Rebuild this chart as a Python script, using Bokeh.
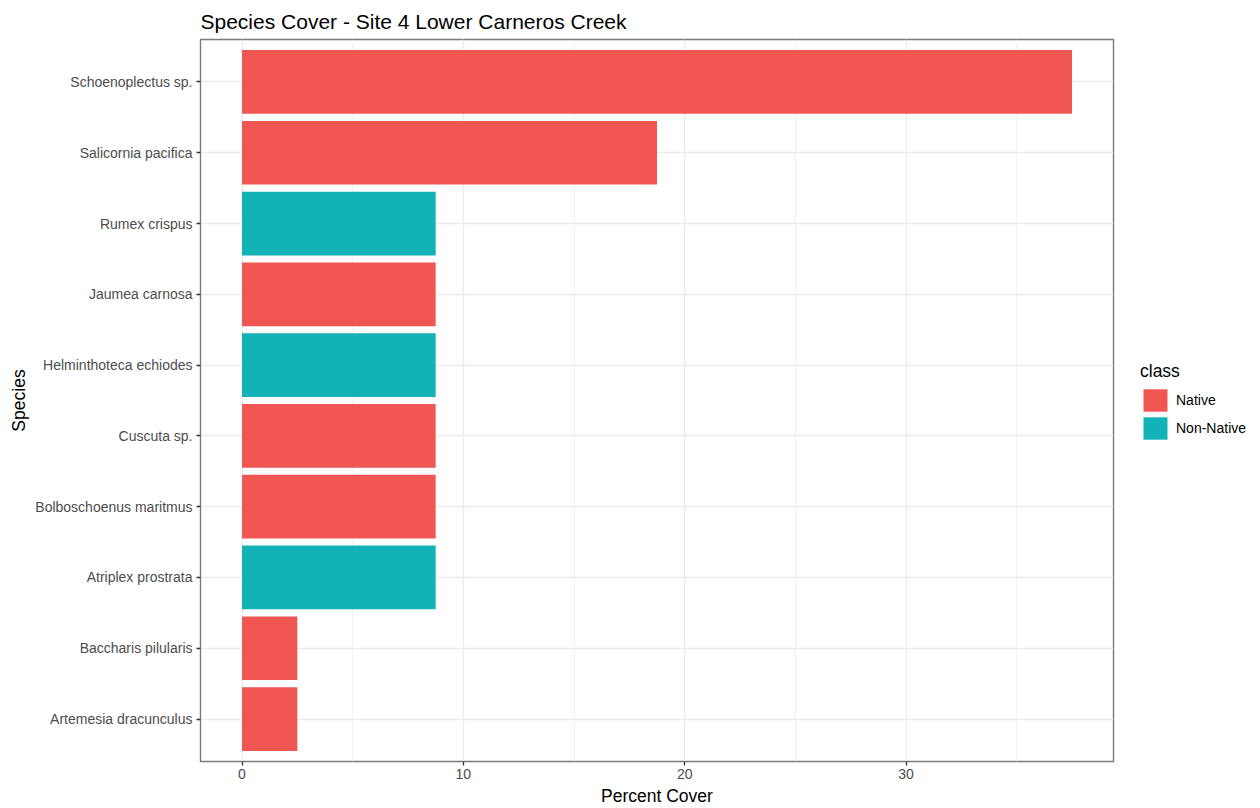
from bokeh.plotting import figure
from bokeh.layouts import row
from bokeh.models import (ColumnDataSource, FactorRange, Range1d, FixedTicker,
                          Legend, LegendItem)
from bokeh.embed import file_html
from bokeh.resources import INLINE

# ---- data ----
species = ["Schoenoplectus sp.", "Salicornia pacifica", "Rumex crispus",
           "Jaumea carnosa", "Helminthoteca echiodes", "Cuscuta sp.",
           "Bolboschoenus maritmus", "Atriplex prostrata",
           "Baccharis pilularis", "Artemesia dracunculus"]
cover = [37.5, 18.75, 8.75, 8.75, 8.75, 8.75, 8.75, 8.75, 2.5, 2.5]
klass = ["Native", "Native", "Non-Native", "Native", "Non-Native", "Native",
         "Native", "Non-Native", "Native", "Native"]
class_levels = ["Native", "Non-Native"]
class_colors = ["#F05652", "#12B2B6"]
x_ticks = [0, 10, 20, 30]
x_minor = [5, 15, 25, 35]

FONT = "Liberation Sans"

H = 808
MAIN_W = 1120
LEG_W = 132
FRAME_L, FRAME_T, FRAME_R, FRAME_B = 200, 38, 1113, 763

factors = list(reversed(species))  # bottom to top
xmax = max(cover)
pad = 0.05 * xmax

p = figure(width=MAIN_W, height=H, output_backend="svg", toolbar_location=None,
           y_range=FactorRange(factors=factors, range_padding=0.1,
                               range_padding_units="absolute"),
           x_range=Range1d(-pad, xmax + pad),
           min_border_left=FRAME_L, min_border_right=MAIN_W - FRAME_R,
           min_border_top=FRAME_T, min_border_bottom=H - FRAME_B)


def class_source(lvl):
    ys = [s for s, k in zip(species, klass) if k == lvl]
    xs = [c for c, k in zip(cover, klass) if k == lvl]
    return ColumnDataSource(dict(y=ys, right=xs))


for lvl, col in zip(class_levels, class_colors):
    p.hbar(y="y", left=0, right="right", height=0.9,
           source=class_source(lvl), fill_color=col, line_color=None)

# title
p.title.text = "Species Cover - Site 4 Lower Carneros Creek"
p.title.text_font = FONT
p.title.text_font_size = "21px"
p.title.text_font_style = "normal"
p.title.text_color = "#000000"
p.title.align = "left"
p.title.offset = 0
p.title.standoff = 14

# frame
p.outline_line_color = "#7A7A7A"
p.outline_line_width = 1.4
p.background_fill_color = "white"
p.border_fill_color = "white"

# grids
p.xaxis.ticker = FixedTicker(ticks=x_ticks, minor_ticks=x_minor)
p.xgrid.grid_line_color = "#EBEBEB"
p.xgrid.grid_line_width = 1.3
p.xgrid.minor_grid_line_color = "#EFEFEF"
p.xgrid.minor_grid_line_width = 0.8
p.ygrid.grid_line_color = "#EBEBEB"
p.ygrid.grid_line_width = 1.3

# axes
for ax in (p.xaxis[0], p.yaxis[0]):
    ax.axis_line_color = None
    ax.major_tick_line_color = "#333333"
    ax.major_tick_line_width = 1.3
    ax.major_tick_out = 4
    ax.major_tick_in = 0
    ax.minor_tick_line_color = None
    ax.major_label_text_font = FONT
    ax.major_label_text_font_size = "14px"
    ax.major_label_text_color = "#4D4D4D"
    ax.axis_label_text_font = FONT
    ax.axis_label_text_font_size = "17.5px"
    ax.axis_label_text_font_style = "normal"
    ax.axis_label_text_color = "#000000"

p.xaxis.axis_label = "Percent Cover"
p.xaxis.major_label_standoff = 3
p.xaxis.axis_label_standoff = 4
p.yaxis.axis_label = "Species"
p.yaxis.major_label_standoff = 4
p.yaxis.axis_label_standoff = 3

# ---- legend figure (to the right of the panel) ----
# legend-only renderers: zero-height bars, so only the legend swatches show
lg = figure(width=LEG_W, height=H, output_backend="svg", toolbar_location=None,
            x_range=Range1d(0, 1), y_range=FactorRange(factors=factors),
            min_border=0, x_axis_type=None, y_axis_type=None)
lg.outline_line_color = None
lg.grid.visible = False
lg.background_fill_color = "white"
lg.border_fill_color = "white"
items = []
for lvl, col in zip(class_levels, class_colors):
    r = lg.hbar(y="y", left=0, right="right", height=0,
                source=class_source(lvl), fill_color=col, line_color=None)
    items.append(LegendItem(label=lvl, renderers=[r]))

legend = Legend(items=items, location=(20, 319), title="class")
legend.title_text_font = FONT
legend.title_text_font_size = "17.5px"
legend.title_text_font_style = "normal"
legend.title_text_color = "#000000"
legend.title_standoff = 4
legend.label_text_font = FONT
legend.label_text_font_size = "14px"
legend.label_text_color = "#000000"
legend.glyph_width = 30
legend.glyph_height = 28
legend.label_height = 28
legend.label_standoff = 6
legend.spacing = 0
legend.padding = 10
legend.margin = 0
legend.border_line_color = None
legend.background_fill_alpha = 0
lg.add_layout(legend, "center")

layout = row(p, lg, spacing=0)
open("out.html", "w").write(file_html(layout, INLINE))
